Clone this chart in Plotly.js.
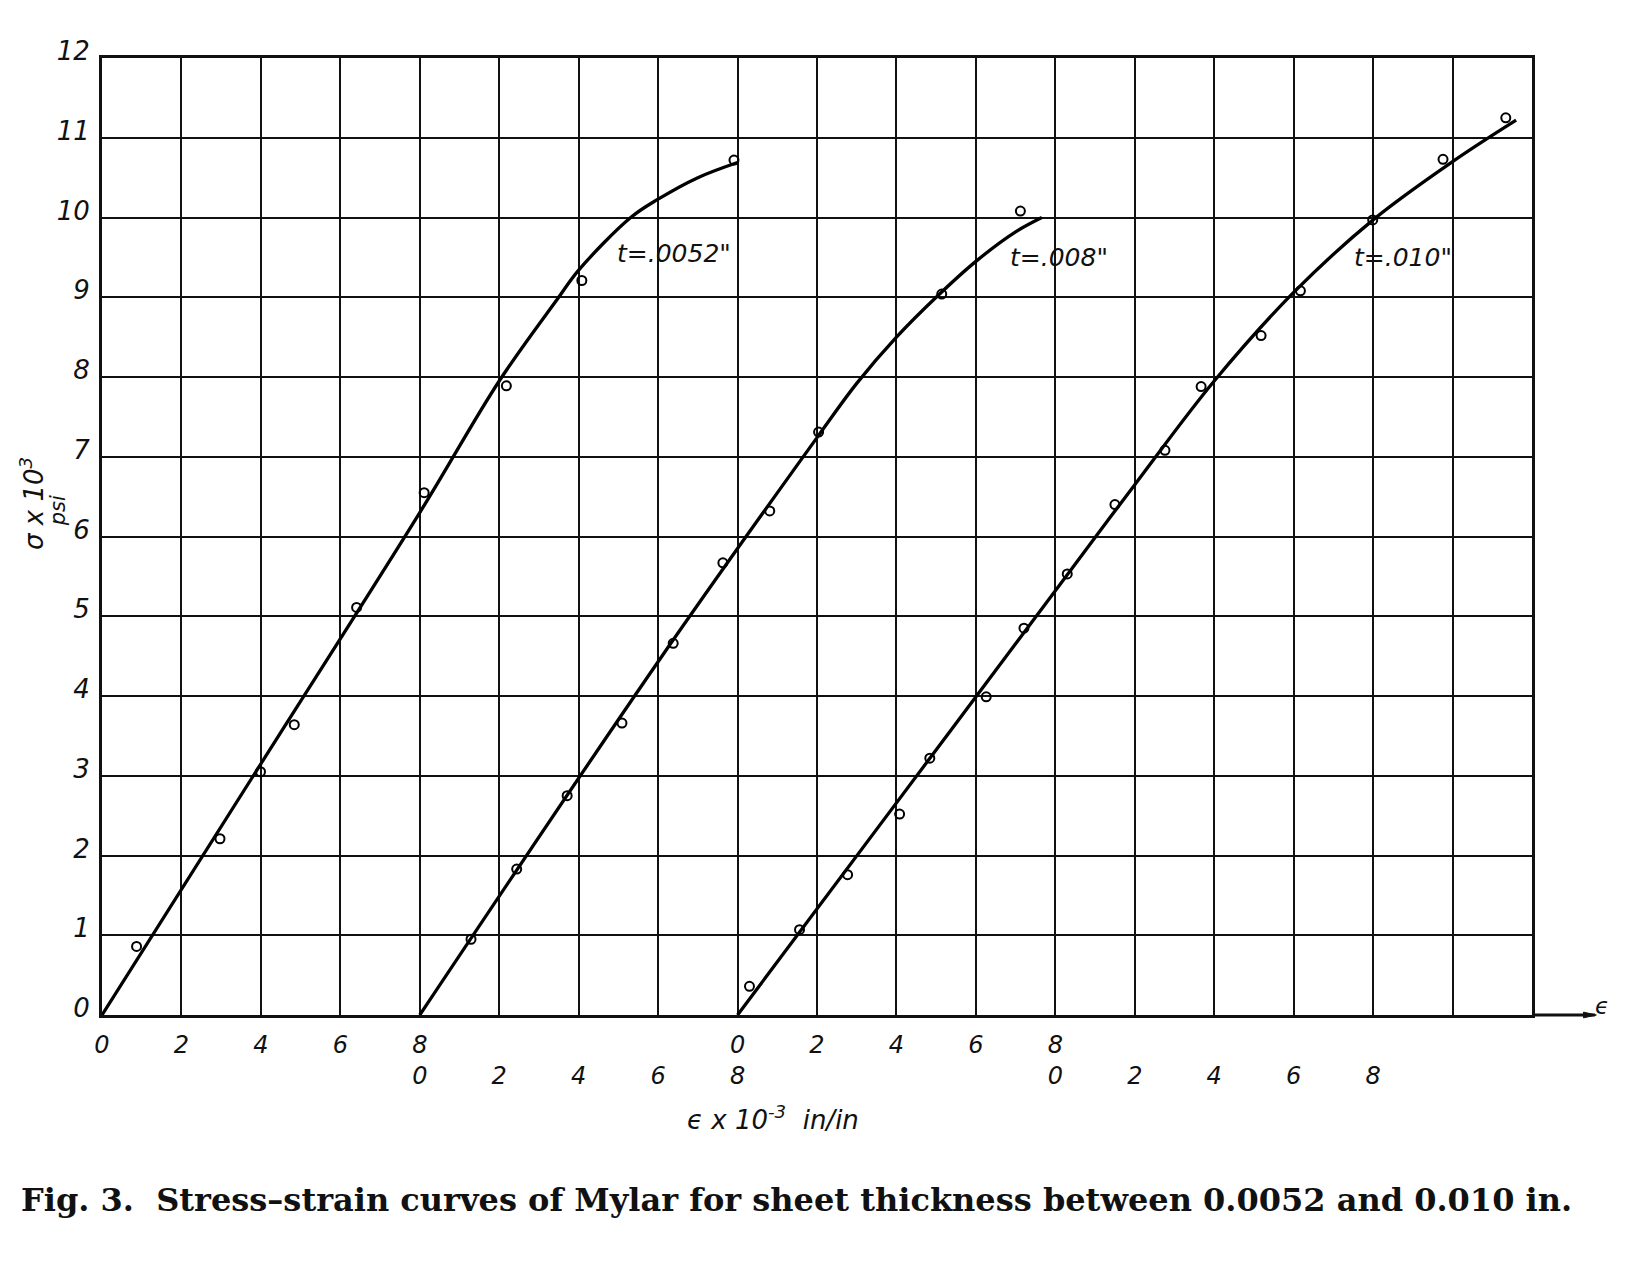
<!DOCTYPE html>
<html>
<head>
<meta charset="utf-8">
<script src="https://cdn.plot.ly/plotly-3.0.1.min.js"></script>
<style>
  html, body { margin: 0; padding: 0; background: #fff; }
  #chart { width: 1650px; height: 1275px; }
</style>
</head>
<body>
<div id="chart"></div>
<script>
// ---- Data (global strain scale, units of 1e-3 in/in; stress in 1e3 psi) ----
// Curve t = .0052"
const pts0052X = [0.87, 2.97, 3.99, 4.84, 6.41, 8.11, 10.18, 12.08, 15.91];
const pts0052Y = [0.86, 2.21, 3.05, 3.64, 5.11, 6.55, 7.89, 9.21, 10.72];
const fit0052X = [0, 4, 8, 10, 11.47, 12, 13.31, 14, 15, 16];
const fit0052Y = [0, 3.15, 6.3, 7.95, 8.98, 9.34, 10.0, 10.23, 10.5, 10.69];

// Curve t = .008"
const pts008X = [9.29, 10.44, 11.71, 13.09, 14.38, 15.63, 16.81, 18.04, 21.14, 23.12];
const pts008Y = [0.95, 1.83, 2.75, 3.66, 4.66, 5.67, 6.32, 7.31, 9.04, 10.08];
const fit008X = [8, 14, 18, 19, 20, 21, 22, 23, 23.66];
const fit008Y = [0, 4.43, 7.24, 7.92, 8.5, 9.0, 9.45, 9.82, 10.0];

// Curve t = .010"
const pts010X = [16.3, 17.56, 18.77, 20.08, 20.84, 22.26, 23.21, 24.3, 25.5, 26.76, 27.67, 29.18, 30.17, 31.99, 33.76, 35.34];
const pts010Y = [0.36, 1.07, 1.76, 2.52, 3.22, 3.99, 4.85, 5.53, 6.4, 7.08, 7.88, 8.52, 9.08, 9.97, 10.73, 11.25];
const fit010X = [16, 20, 24, 26, 28, 30, 32, 34, 35.6];
const fit010Y = [0, 2.66, 5.32, 6.65, 7.95, 9.06, 9.97, 10.7, 11.22];

// Curve labels
const curveLabels = ['t=.0052"', 't=.008"', 't=.010"'];
const labelX = [12.92, 22.8, 31.46];
const labelY = [9.55, 9.5, 9.5];

// Axis ticks (two rows of strain labels for the shifted origins)
const xTickVals = [0, 2, 4, 6, 8, 10, 12, 14, 16, 18, 20, 22, 24, 26, 28, 30, 32];
const xRow1 = ['0', '2', '4', '6', '8', '', '', '', '0', '2', '4', '6', '8', '', '', '', ''];
const xRow2 = ['', '', '', '', '0', '2', '4', '6', '8', '', '', '', '0', '2', '4', '6', '8'];
const yTickVals = [0, 1, 2, 3, 4, 5, 6, 7, 8, 9, 10, 11, 12];
const yTickText = ['0', '1', '2', '3', '4', '5', '6', '7', '8', '9', '10', '11', '12'];

const hand = {family: 'DejaVu Sans, Liberation Sans, sans-serif', color: '#111', style: 'italic'};

const xTickText = xTickVals.map((v, i) => {
  const a = xRow1[i], b = xRow2[i];
  if (a && b) return a + '<br>' + b;
  if (a) return a + '<br>\u2007';
  return '\u2007<br>' + b;
});

function fitTrace(x, y) {
  return {x: x, y: y, mode: 'lines', type: 'scatter', hoverinfo: 'skip',
          line: {color: '#000', width: 3.3, shape: 'spline', smoothing: 1.0}, showlegend: false};
}
function ptsTrace(x, y) {
  return {x: x, y: y, mode: 'markers', type: 'scatter',
          marker: {symbol: 'circle-open', size: 9, color: '#000', line: {width: 2, color: '#000'}},
          showlegend: false};
}

const traces = [
  fitTrace(fit0052X, fit0052Y), ptsTrace(pts0052X, pts0052Y),
  fitTrace(fit008X, fit008Y), ptsTrace(pts008X, pts008Y),
  fitTrace(fit010X, fit010Y), ptsTrace(pts010X, pts010Y)
];

const annotations = curveLabels.map((t, i) => ({
  x: labelX[i], y: labelY[i], xref: 'x', yref: 'y', text: t, showarrow: false,
  xanchor: 'left', yanchor: 'middle', font: Object.assign({size: 25}, hand)
}));

annotations.push(
  {x: 16.9, y: -0.108, xref: 'x', yref: 'paper', text: '\u03f5 x 10<sup>-3</sup>  in/in', showarrow: false,
   xanchor: 'center', yanchor: 'middle', font: Object.assign({size: 26}, hand)},
  {x: -0.049, y: 0.535, xref: 'paper', yref: 'paper', text: '\u03c3 x 10<sup>3</sup>', textangle: -90,
   showarrow: false, xanchor: 'center', yanchor: 'middle', font: Object.assign({size: 26}, hand)},
  {x: -0.031, y: 0.527, xref: 'paper', yref: 'paper', text: 'psi', textangle: -90,
   showarrow: false, xanchor: 'center', yanchor: 'middle', font: Object.assign({size: 21}, hand)},
  {x: 1.049, y: 0, xref: 'paper', yref: 'paper', text: '\u03f5', showarrow: false,
   xanchor: 'center', yanchor: 'bottom', yshift: -6, font: Object.assign({size: 23}, hand)},
  {x: 0.486, y: -0.193, xref: 'paper', yref: 'paper', xanchor: 'center', yanchor: 'middle', showarrow: false,
   text: 'Fig. 3.  Stress\u2013strain curves of Mylar for sheet thickness between 0.0052 and 0.010 in.',
   font: {family: 'DejaVu Serif, Liberation Serif, serif', size: 32, color: '#111', weight: 'bold'}}
);

const layout = {
  width: 1650, height: 1275,
  margin: {l: 102, r: 118, t: 58, b: 260},
  paper_bgcolor: '#fff', plot_bgcolor: '#fff',
  showlegend: false,
  xaxis: {
    range: [0, 36], tickmode: 'array', tickvals: xTickVals, ticktext: xTickText,
    showgrid: true, gridcolor: '#111', gridwidth: 2,
    minor: {tick0: 0, dtick: 2, showgrid: true, gridcolor: '#111', gridwidth: 2, ticks: ''},
    showline: true, linecolor: '#111', linewidth: 3, mirror: true,
    ticks: '', zeroline: false, tickfont: Object.assign({size: 24}, hand), fixedrange: true,
    ticklabelstandoff: 6
  },
  yaxis: {
    range: [0, 12], tickmode: 'array', tickvals: yTickVals, ticktext: yTickText,
    showgrid: true, gridcolor: '#111', gridwidth: 2,
    showline: true, linecolor: '#111', linewidth: 3, mirror: true,
    ticks: '', zeroline: false, tickfont: Object.assign({size: 26}, hand), fixedrange: true,
    ticklabelshift: -7, ticklabelstandoff: 4
  },
  shapes: [
    {type: 'line', xref: 'paper', yref: 'paper', x0: 1, x1: 1.044, y0: 0, y1: 0,
     line: {color: '#111', width: 3}},
    {type: 'path', xref: 'paper', yref: 'paper',
     path: 'M 1.036 -0.003 L 1.045 0 L 1.036 0.003 Z', fillcolor: '#111', line: {color: '#111', width: 1}}
  ],
  annotations: annotations
};

Plotly.newPlot('chart', traces, layout, {staticPlot: true, displayModeBar: false});
</script>
</body>
</html>
